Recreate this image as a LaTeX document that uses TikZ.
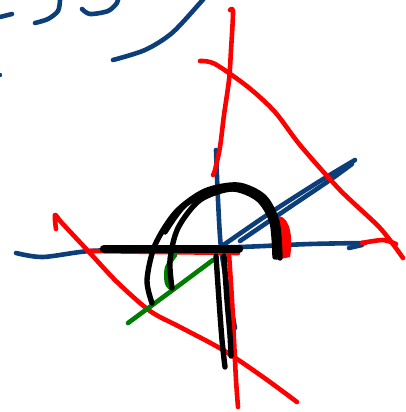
\documentclass[tikz,border=0pt]{standalone}
\usepackage{tikz}
\definecolor{inkblue}{RGB}{12,62,122}
\definecolor{inkred}{RGB}{255,0,0}
\definecolor{inkgreen}{RGB}{0,125,0}
\tikzset{
  pen/.style={line cap=round, line join=round},
  bluestroke/.style={pen, draw=inkblue, line width=4.6pt},
  redstroke/.style={pen, draw=inkred, line width=4.6pt},
  greenstroke/.style={pen, draw=inkgreen, line width=4.6pt},
  blackstroke/.style={pen, draw=black, line width=5.4pt},
}

\begin{document}
\begin{tikzpicture}[x=1pt, y=-1pt]
  \useasboundingbox (0,0) rectangle (406,412);

  % top-left scribbles
  \draw[bluestroke] plot[smooth] coordinates {(0,17) (12,14)};
  \draw[bluestroke] plot[smooth] coordinates {(35,23) (48,19) (58,11) (60,0)};
  \draw[bluestroke] plot[smooth] coordinates {(82,9) (90,14) (108,11) (117,3) (118,-2)};
  \draw[bluestroke] plot[smooth] coordinates {(113,60) (145,50) (172,33) (200,3) (204,-2)};
  \fill[inkblue] (0,75) circle (2.2);

  % axes
  \draw[bluestroke] plot[smooth] coordinates {(16,253) (43,257) (90,251) (160,249) (240,247) (310,244) (365,243)};
  \draw[bluestroke] plot[smooth] coordinates {(349,248) (362,245)};
  \draw[bluestroke] plot[smooth] coordinates {(216,150) (218,200) (221,248) (228,290) (235,328)};
  \draw[bluestroke] plot[smooth] coordinates {(222,246) (270,213) (320,181) (355,160)};
  \draw[bluestroke] plot[smooth] coordinates {(240,241) (290,207) (330,180) (352,164)};

  % red strokes
  \draw[redstroke] plot[smooth] coordinates {(230,10) (233,12) (231,50) (229,80) (224,115) (220,147) (215,170) (213,175)};
  \draw[redstroke] plot[smooth] coordinates {(200,61) (215,64) (248,87) (275,112) (300,145) (340,190) (380,228) (403,258)};
  \draw[redstroke] plot[smooth] coordinates {(362,243) (383,240) (396,244)};
  \draw[redstroke] plot[smooth] coordinates {(56,229) (55,215) (62,223) (90,253) (117,282) (150,311) (180,327) (223,350) (263,377) (297,402)};
  \draw[redstroke] plot[smooth] coordinates {(90,251) (160,252) (238,253)};
  \draw[redstroke] plot[smooth] coordinates {(229,254) (232,300) (234,340) (236,380) (238,407)};
  \fill[inkred] (279,216) .. controls (291,218) and (293,240) .. (290,257)
    -- (276,260) .. controls (280,240) and (279,228) .. cycle;

  % green strokes
  \draw[greenstroke] plot[smooth] coordinates {(128,323) (170,292) (213,260)};
  \draw[greenstroke] plot[smooth] coordinates {(175,255) (167,268) (167,283) (172,289)};

  % black bar and stem
  \draw[blackstroke, line width=8.5pt] plot[smooth] coordinates {(104,249) (170,249) (239,249)};
  \draw[blackstroke] plot[smooth] coordinates {(216,256) (219,300) (222,340) (225,367)};
  \draw[blackstroke] plot[smooth] coordinates {(224,256) (227,300) (230,335) (231,356)};

  % black arches
  \draw[blackstroke] plot[smooth] coordinates {(152,303) (147,280) (155,245) (176,212) (205,191) (238,185) (264,197) (277,222) (280,258)};
  \draw[blackstroke] plot[smooth] coordinates {(172,288) (170,260) (178,228) (200,200) (232,189) (258,199) (272,222) (275,257)};
  \draw[blackstroke] plot[smooth] coordinates {(165,232) (185,205) (215,190) (245,188) (266,200) (273,215)};
\end{tikzpicture}
\end{document}
